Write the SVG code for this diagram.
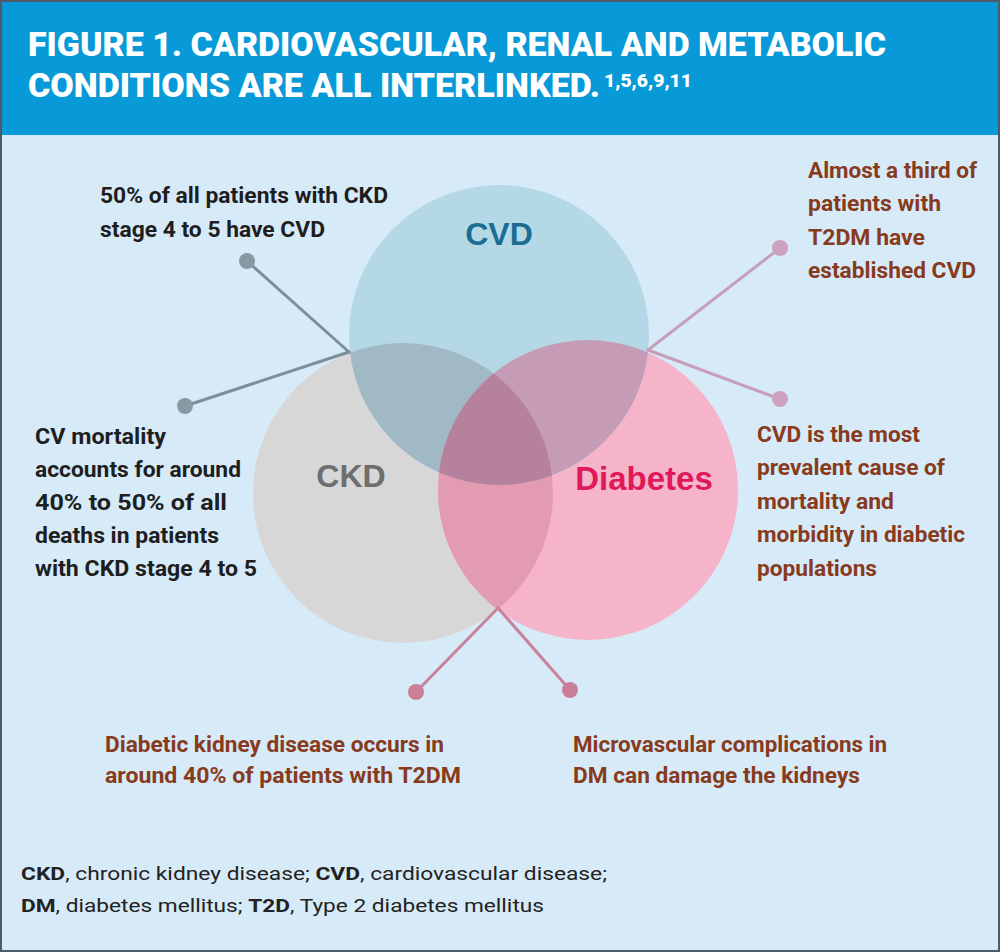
<svg xmlns="http://www.w3.org/2000/svg" width="1000" height="952" viewBox="0 0 1000 952">
<style>
.t{font-family:Roboto,"Liberation Sans",sans-serif;font-weight:700;font-size:22px}
.dk{fill:#1e1e1e}
.br{fill:#883a1d}
.hd{font-family:Roboto,"Liberation Sans",sans-serif;font-weight:900;font-size:33px;fill:#ffffff}
.lbl{font-family:"Liberation Sans",Arial,sans-serif;font-weight:700;text-anchor:middle}
.ft{font-family:Roboto,"Liberation Sans",sans-serif;font-size:19px;fill:#222222}
.ft tspan.b{font-weight:700}
.ln{stroke-width:3;fill:none;stroke-linecap:round}
</style>
<defs>
<clipPath id="cCKD"><circle cx="403" cy="493" r="150"/></clipPath>
<clipPath id="cDIA"><circle cx="588" cy="490" r="150"/></clipPath>
</defs>
<rect x="0" y="0" width="1000" height="952" fill="#d7eaf8"/>
<rect x="0" y="0" width="1000" height="135" fill="#0799d8"/>
<g id="title">
<text class="hd" x="28" y="56" textLength="858" lengthAdjust="spacingAndGlyphs">FIGURE 1. CARDIOVASCULAR, RENAL AND METABOLIC</text>
<text class="hd" x="28" y="97" textLength="572" lengthAdjust="spacingAndGlyphs">CONDITIONS ARE ALL INTERLINKED.</text>
<text class="hd" x="604" y="87" style="font-size:18px" textLength="88" lengthAdjust="spacingAndGlyphs">1,5,6,9,11</text>
</g>
<g id="venn">
<circle cx="403" cy="493" r="150" fill="#d7d7d7"/>
<circle cx="588" cy="490" r="150" fill="#f6b4ca"/>
<circle cx="499" cy="335" r="150" fill="#b4d8e5"/>
<g clip-path="url(#cCKD)"><circle cx="588" cy="490" r="150" fill="#e29bb1"/></g>
<g clip-path="url(#cCKD)"><circle cx="499" cy="335" r="150" fill="#a1b9c4"/></g>
<g clip-path="url(#cDIA)"><circle cx="499" cy="335" r="150" fill="#c59bb5"/></g>
<g clip-path="url(#cCKD)"><g clip-path="url(#cDIA)"><circle cx="499" cy="335" r="150" fill="#b6819c"/></g></g>
</g>
<g id="node-cvd"><text class="lbl" x="499" y="245" style="font-size:32px" fill="#1b6d94">CVD</text></g>
<g id="node-ckd"><text class="lbl" x="351" y="487" style="font-size:32px" fill="#6e6e6e">CKD</text></g>
<g id="node-diabetes"><text class="lbl" x="644" y="490" style="font-size:33px" fill="#e0195b">Diabetes</text></g>
<g id="connectors">
<line class="ln" x1="349" y1="352" x2="247" y2="261" stroke="#7b8f99"/>
<line class="ln" x1="349" y1="352" x2="185" y2="406" stroke="#7b8f99"/>
<circle cx="247" cy="261" r="8" fill="#8799a3"/>
<circle cx="185" cy="406" r="8" fill="#8799a3"/>
<line class="ln" x1="648" y1="350" x2="780" y2="248" stroke="#c79eb9"/>
<line class="ln" x1="648" y1="350" x2="780" y2="399" stroke="#c79eb9"/>
<circle cx="780" cy="248" r="8" fill="#cda1bd"/>
<circle cx="780" cy="399" r="8" fill="#cda1bd"/>
<line class="ln" x1="498" y1="608" x2="416" y2="692" stroke="#c9829b"/>
<line class="ln" x1="498" y1="608" x2="570" y2="690" stroke="#c9829b"/>
<circle cx="416" cy="692" r="8" fill="#ca7f99"/>
<circle cx="570" cy="690" r="8" fill="#ca7f99"/>
</g>
<g id="note-ckd-cvd" class="t dk">
<text x="100" y="203" textLength="288" lengthAdjust="spacingAndGlyphs">50% of all patients with CKD</text>
<text x="100" y="237" textLength="225" lengthAdjust="spacingAndGlyphs">stage 4 to 5 have CVD</text>
</g>
<g id="note-cv-mortality" class="t dk">
<text x="35" y="444" textLength="131" lengthAdjust="spacingAndGlyphs">CV mortality</text>
<text x="35" y="477" textLength="206" lengthAdjust="spacingAndGlyphs">accounts for around</text>
<text x="35" y="510" textLength="192" lengthAdjust="spacingAndGlyphs">40% to 50% of all</text>
<text x="35" y="543" textLength="184" lengthAdjust="spacingAndGlyphs">deaths in patients</text>
<text x="35" y="576" textLength="222" lengthAdjust="spacingAndGlyphs">with CKD stage 4 to 5</text>
</g>
<g id="note-t2dm-cvd" class="t br">
<text x="808" y="178" textLength="169" lengthAdjust="spacingAndGlyphs">Almost a third of</text>
<text x="808" y="211" textLength="133" lengthAdjust="spacingAndGlyphs">patients with</text>
<text x="808" y="245" textLength="117" lengthAdjust="spacingAndGlyphs">T2DM have</text>
<text x="808" y="278" textLength="168" lengthAdjust="spacingAndGlyphs">established CVD</text>
</g>
<g id="note-cvd-prevalent" class="t br">
<text x="757" y="442" textLength="163" lengthAdjust="spacingAndGlyphs">CVD is the most</text>
<text x="757" y="475" textLength="188" lengthAdjust="spacingAndGlyphs">prevalent cause of</text>
<text x="757" y="509" textLength="137" lengthAdjust="spacingAndGlyphs">mortality and</text>
<text x="757" y="542" textLength="208" lengthAdjust="spacingAndGlyphs">morbidity in diabetic</text>
<text x="757" y="576" textLength="120" lengthAdjust="spacingAndGlyphs">populations</text>
</g>
<g id="note-dkd" class="t br">
<text x="105" y="752" textLength="339" lengthAdjust="spacingAndGlyphs">Diabetic kidney disease occurs in</text>
<text x="105" y="783" textLength="356" lengthAdjust="spacingAndGlyphs">around 40% of patients with T2DM</text>
</g>
<g id="note-microvascular" class="t br">
<text x="573" y="752" textLength="314" lengthAdjust="spacingAndGlyphs">Microvascular complications in</text>
<text x="573" y="783" textLength="287" lengthAdjust="spacingAndGlyphs">DM can damage the kidneys</text>
</g>
<g id="footer">
<text class="ft" x="21" y="880" textLength="586" lengthAdjust="spacingAndGlyphs"><tspan class="b">CKD</tspan>, chronic kidney disease; <tspan class="b">CVD</tspan>, cardiovascular disease;</text>
<text class="ft" x="21" y="912" textLength="523" lengthAdjust="spacingAndGlyphs"><tspan class="b">DM</tspan>, diabetes mellitus; <tspan class="b">T2D</tspan>, Type 2 diabetes mellitus</text>
</g>
<rect x="1" y="1" width="998" height="950" fill="none" stroke="#4e5a66" stroke-width="2"/>
</svg>
